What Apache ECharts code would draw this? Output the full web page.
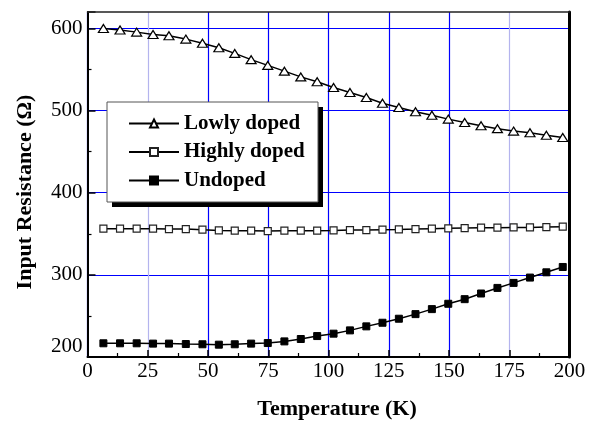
<!DOCTYPE html>
<html>
<head>
<meta charset="utf-8">
<script src="https://cdn.jsdelivr.net/npm/echarts@6/dist/echarts.min.js"></script>
<style>html,body{margin:0;padding:0;background:#fff}#c{width:594px;height:430px}</style>
</head>
<body>
<div id="c"></div>
<script>
var temps = [6.6,13.5,20.4,27.2,33.8,40.8,47.7,54.5,61.1,67.9,74.8,81.7,88.5,95.3,102.1,108.9,115.7,122.4,129.2,136.1,142.9,149.7,156.5,163.3,170.1,176.8,183.6,190.4,197.2];
var lowly = [600,598,595.5,592.7,591,587,582,576.5,569.6,562,555,548,541,535,528,522,516,509,503.7,498.5,494.4,489.6,485.5,481.5,478,475,473,470,467.3];
var highly = [356.2,356.2,356.2,356.2,355.7,355.7,355,354.1,353.8,353.8,353.3,353.8,353.8,353.8,354.1,354.5,354.5,355,355.3,355.7,356.2,356.6,357,357.4,357.4,357.8,357.8,358.2,358.6];
var undoped = [216.7,216.7,216.7,216.3,216.3,215.8,215.5,215,215.5,216.3,217,219,221.9,225.5,228.4,232.4,237.3,241.7,246.6,252.2,258.3,264.8,270.4,277.3,284.1,290.2,296.7,303.1,309.6];
var seriesNames = ['Lowly doped','Highly doped','Undoped'];
var xTicks = [0,25,50,75,100,125,150,175,200];
var yTicks = [200,300,400,500,600];
var xTitle = 'Temperature (K)';
var yTitle = 'Input Resistance (\u03A9)';

function pairs(v){ return temps.map(function(t,i){ return [t, v[i]]; }); }
var FONT = '"Liberation Serif", "Times New Roman", serif';
var BLUE = '#0000ff', LIGHT = '#b4b4ee';

var chart = echarts.init(document.getElementById('c'), null, {renderer:'canvas'});
chart.setOption({
  animation:false,
  backgroundColor:'#fff',
  grid:{left:87.5, right:24.5, top:12, bottom:73, show:false},
  xAxis:[{
    type:'value', min:xTicks[0], max:xTicks[xTicks.length-1], interval:25,
    axisLine:{show:true, onZero:false, lineStyle:{color:'#000', width:2}},
    axisTick:{show:true, inside:true, length:7, lineStyle:{color:'#000', width:1.5}},
    minorTick:{show:true, splitNumber:2, length:4, lineStyle:{color:'#000', width:1.2}},
    axisLabel:{color:'#000', fontFamily:FONT, fontSize:21, margin:4},
    splitLine:{show:true, lineStyle:{color:[BLUE,LIGHT,BLUE,BLUE,BLUE,BLUE,BLUE,LIGHT,BLUE], width:1.2}}
  },{
    type:'value', position:'top', min:xTicks[0], max:xTicks[xTicks.length-1], z:6,
    axisLine:{show:true, onZero:false, lineStyle:{color:'#222', width:1.5}},
    axisTick:{show:false}, axisLabel:{show:false}, splitLine:{show:false}
  }],
  yAxis:[{
    type:'value', min:yTicks[0], max:620, interval:100,
    axisLine:{show:true, onZero:false, lineStyle:{color:'#000', width:2}},
    axisTick:{show:true, inside:true, length:8, lineStyle:{color:'#000', width:1.5}},
    minorTick:{show:true, splitNumber:2, length:4, lineStyle:{color:'#000', width:1.2}},
    axisLabel:{color:'#000', fontFamily:FONT, fontSize:21, margin:5, verticalAlignMinLabel:'bottom',
      formatter:function(v){ return yTicks.indexOf(v) >= 0 ? String(v) : ''; }},
    splitLine:{show:true, showMaxLine:false, lineStyle:{color:BLUE, width:1.2}}
  },{
    type:'value', min:yTicks[0], max:620, position:'right', z:6,
    axisLine:{show:true, onZero:false, lineStyle:{color:'#000', width:3}},
    axisTick:{show:false}, axisLabel:{show:false}, splitLine:{show:false}
  }],
  legend:{
    orient:'vertical', left:107, top:102, padding:[11,8,10,21],
    itemWidth:50, itemHeight:10, itemGap:7.5, z:10,
    textStyle:{fontFamily:FONT, fontSize:21, fontWeight:'bold', color:'#000'},
    data:seriesNames
  },
  graphic:[
    {type:'rect', z:8, shape:{x:112, y:107, width:211, height:100}, style:{fill:'#000'}},
    {type:'rect', z:9, shape:{x:107, y:102, width:211, height:100}, style:{fill:'#fff', stroke:'#555', lineWidth:1}},
    {type:'text', z:10, x:337, y:409, style:{text:xTitle, fontFamily:FONT, fontSize:22, fontWeight:'bold', fill:'#000', textAlign:'center', textVerticalAlign:'middle'}},
    {type:'text', z:10, x:25, y:192, rotation:Math.PI/2, style:{text:yTitle, fontFamily:FONT, fontSize:22, fontWeight:'bold', fill:'#000', textAlign:'center', textVerticalAlign:'middle'}}
  ],
  series:[
    {name:seriesNames[0], type:'line', data:pairs(lowly), symbol:'triangle', symbolSize:[10,8],
      lineStyle:{color:'#000', width:1.5}, itemStyle:{color:'#fff', borderColor:'#000', borderWidth:1.2}, z:3},
    {name:seriesNames[1], type:'line', data:pairs(highly), symbol:'rect', symbolSize:7,
      lineStyle:{color:'#000', width:1.5}, itemStyle:{color:'#fff', borderColor:'#222', borderWidth:1.2}, z:3},
    {name:seriesNames[2], type:'line', data:pairs(undoped), symbol:'rect', symbolSize:7,
      lineStyle:{color:'#000', width:1.5}, itemStyle:{color:'#000', borderColor:'#000', borderWidth:1}, z:3}
  ]
});
</script>
</body>
</html>
